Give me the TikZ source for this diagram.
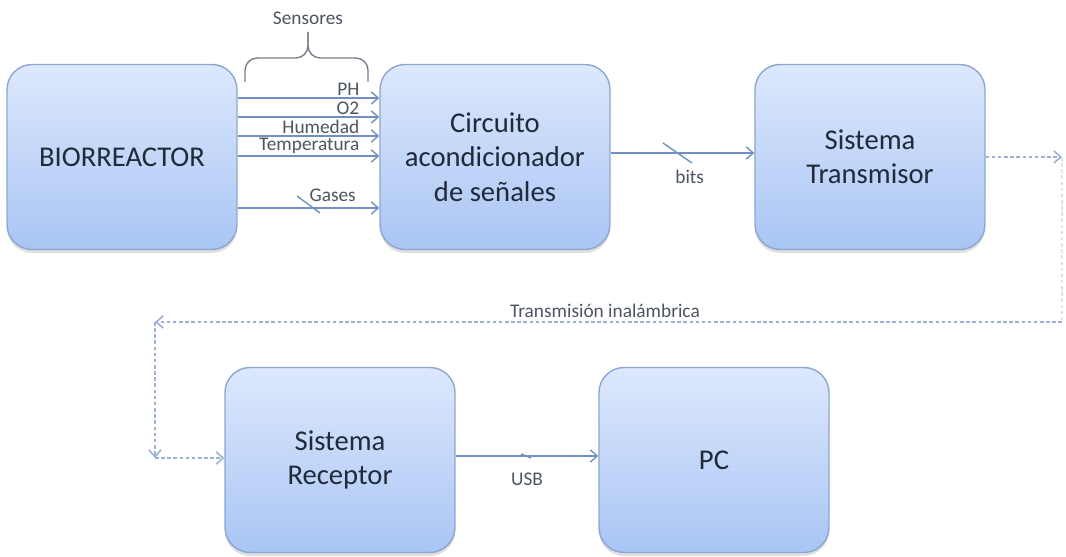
\documentclass[tikz,border=0pt]{standalone}
\usepackage{fontspec}
\setmainfont{Carlito}
\usetikzlibrary{arrows.meta,shadows}
\definecolor{boxtop}{HTML}{DDE8FC}
\definecolor{boxbot}{HTML}{A9C5F4}
\definecolor{boxline}{HTML}{8CA6CF}
\definecolor{wire}{HTML}{7190C2}
\definecolor{txt}{HTML}{1F2A3A}
\tikzset{
  block/.style={draw=boxline, line width=0.8pt, rounded corners=0.5cm,
    top color=boxtop, bottom color=boxbot, minimum width=4.6cm,
    minimum height=3.7cm, align=center, text=txt,
    font=\fontsize{16.3}{19.5}\selectfont,
    drop shadow={shadow xshift=0pt, shadow yshift=-2pt, opacity=0.25}},
  lbl/.style={text=txt!80, font=\fontsize{11}{13}\selectfont},
  wire/.style={draw=wire, line width=0.8pt},
  radio/.style={draw=wire!70, line width=0.9pt, dash pattern=on 2pt off 1.5pt}
}
\begin{document}
\begin{tikzpicture}[x=0.02cm, y=-0.02cm, >={Straight Barb[length=4pt,width=7pt]}]
  \useasboundingbox (0,0) rectangle (1066,557);
  \draw
    (122,157) node[block] (bio){BIORREACTOR}
    (495,157) node[block] (acond){Circuito\\acondicionador\\de señales}
    (870,157) node[block] (tx){Sistema\\Transmisor}
    (340,460) node[block] (rx){Sistema\\Receptor}
    (714,460) node[block] (pc){PC};
  \coordinate (c1) at (1062,157);
  \coordinate (c2) at (1062,322);
  \coordinate (c3) at (155,322);
  \coordinate (c4) at (155,458);
  \begin{scope}[wire, ->]
    \draw (bio.east |- 0,98) -- (acond.west |- 0,98)
      node[lbl, pos=1, anchor=south east, inner sep=1pt, xshift=-10pt] {PH};
    \draw (bio.east |- 0,117) -- (acond.west |- 0,117)
      node[lbl, pos=1, anchor=south east, inner sep=1pt, xshift=-10pt] {O2};
    \draw (bio.east |- 0,136) -- (acond.west |- 0,136)
      node[lbl, pos=1, anchor=south east, inner sep=1pt, xshift=-10pt] {Humedad};
    \draw (bio.east |- 0,156) -- (acond.west |- 0,156)
      node[lbl, pos=1, anchor=south east, inner sep=1pt, xshift=-10pt] {Temperatura};
    \draw (bio.east |- 0,208) -- (acond.west |- 0,208)
      node[lbl, pos=1, anchor=south east, inner sep=3pt, xshift=-10pt] {Gases};
    \draw (acond.east |- 0,153) -- (tx.west |- 0,153)
      node[lbl, pos=0.55, below=6pt] {bits};
    \draw (rx.east |- 0,456) -- (pc.west |- 0,456)
      node[lbl, pos=0.5, below=6pt] {USB};
  \end{scope}
  % bus marks
  \draw[wire] (297,196) -- (320,213);
  \draw[wire] (663,143) -- (692,163);
  \draw[wire] (521,454) -- (531,458);
  % sensores
  \begin{scope}[txt!60, line width=0.8pt, rounded corners=7pt]
    \draw (245,82) -- (245,58) -- (308,58) -- (308,32);
    \draw (368,82) -- (368,58) -- (308,58) -- (308,32);
  \end{scope}
  \node[lbl] (sens) at (308,18) {Sensores};
  % enlace inalambrico
  \begin{scope}[radio]
    \draw[->] (tx.east) -- (c1);
    \draw[draw=wire!25] (c1) -- (c2);
    \draw[->] (c2) -- (c3);
    \draw[->] (c3) -- (c4);
    \draw[->] (c4) -- (rx.west |- c4);
  \end{scope}
  \node[lbl] (inal) at (605,311) {Transmisión inalámbrica};
\end{tikzpicture}
\end{document}
